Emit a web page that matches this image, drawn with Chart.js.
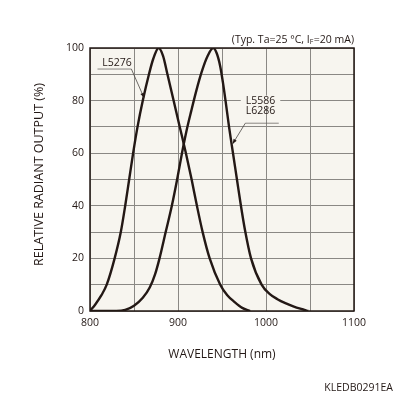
<!DOCTYPE html>
<html>
<head>
<meta charset="utf-8">
<script src="https://cdn.jsdelivr.net/npm/chart.js@4/dist/chart.umd.min.js"></script>
<style>
html,body{margin:0;padding:0;background:#fff;}
#wrap{width:396px;height:396px;}
</style>
</head>
<body>
<div id="wrap"><canvas id="c" width="396" height="396"></canvas></div>
<script>
// ---- data ----
const wavelengthL5276 = [800, 806, 813, 819, 828, 835, 840, 844.5, 849, 854, 860, 867, 872, 878, 883, 888, 895, 902, 909, 915.5, 921.5, 928, 936, 948, 956, 964, 973, 982];
const outputL5276     = [0, 2.5, 6, 10, 20, 30, 40, 50, 60, 70, 80, 90, 96, 100, 97, 90, 80, 70, 60, 50, 40, 30, 20, 10, 6, 3.5, 1.2, 0];

const wavelengthL5586 = [800, 830, 840, 850, 860, 868, 874, 879, 886, 893, 899, 904.5, 910, 915, 921, 927, 933, 940, 944, 948, 951, 954, 958, 962.5, 967, 971.5, 976, 983, 995, 1004, 1013, 1022, 1031, 1040, 1048];
const outputL5586     = [0, 0, 0.4, 2, 5, 9, 14, 20, 30, 40, 50, 60, 69, 76, 84, 91, 96.5, 100, 98, 93, 87, 80, 70, 60, 50, 40, 31, 20, 10, 6.5, 4.5, 3, 1.8, 0.8, 0];

const xTickLabels = [800, 900, 1000, 1100];
const yTickLabels = [0, 20, 40, 60, 80, 100];

const seriesNames = ['L5276', 'L5586 / L6286'];
const labelNames  = ['L5276', 'L5586', 'L6286'];

const xTitle = 'WAVELENGTH (nm)';
const yTitle = 'RELATIVE RADIANT OUTPUT (%)';
const noteParts = ['(Typ. Ta=25 °C, I', 'F', '=20 mA)'];
const docCode = 'KLEDB0291EA';

// ---- styles ----
const INK = '#231815';
const GRID = '#8a8884';
const PLOT_BG = '#f7f5ef';
const FONT = '"Open Sans", "Noto Sans", sans-serif';

function pts(xs, ys){ return xs.map((x,i)=>({x:x, y:ys[i]})); }

const annotations = {
  id: 'annotations',
  beforeDraw(chart){
    const a = chart.chartArea, ctx = chart.ctx;
    ctx.save();
    ctx.fillStyle = PLOT_BG;
    ctx.fillRect(a.left, a.top, a.right - a.left, a.bottom - a.top);
    ctx.restore();
  },
  afterDatasetsDraw(chart){
    const ctx = chart.ctx, a = chart.chartArea;
    const xs = chart.scales.x, ys = chart.scales.y;
    const X = v => xs.getPixelForValue(v), Y = v => ys.getPixelForValue(v);
    ctx.save();
    ctx.strokeStyle = INK; ctx.lineWidth = 1.5;
    ctx.strokeRect(a.left, a.top, a.right - a.left, a.bottom - a.top);

    ctx.font = '10.5px ' + FONT;
    ctx.textBaseline = 'middle';
    ctx.textAlign = 'left';
    ctx.fillStyle = INK;

    function arrow(x0,y0,x1,y1){
      ctx.strokeStyle = '#4a4642'; ctx.lineWidth = 0.8;
      ctx.beginPath(); ctx.moveTo(x0,y0); ctx.lineTo(x1,y1); ctx.stroke();
      const ang = Math.atan2(y1-y0, x1-x0), L = 5, W = 1.8;
      ctx.beginPath();
      ctx.moveTo(x1,y1);
      ctx.lineTo(x1 - L*Math.cos(ang) + W*Math.sin(ang), y1 - L*Math.sin(ang) - W*Math.cos(ang));
      ctx.lineTo(x1 - L*Math.cos(ang) - W*Math.sin(ang), y1 - L*Math.sin(ang) + W*Math.cos(ang));
      ctx.closePath(); ctx.fillStyle = INK; ctx.fill();
    }

    // L5276
    ctx.fillStyle = INK;
    ctx.fillText(labelNames[0], X(814), Y(94.3));
    ctx.strokeStyle = '#6d6a66'; ctx.lineWidth = 0.8;
    ctx.beginPath(); ctx.moveTo(X(808.5), Y(92)); ctx.lineTo(X(847), Y(92)); ctx.stroke();
    arrow(X(847), Y(92), X(861.5), Y(81));

    // L5586 with background over the grid line
    const w1 = ctx.measureText(labelNames[1]).width;
    ctx.fillStyle = PLOT_BG;
    ctx.fillRect(X(977) - 5, Y(80) - 5, w1 + 10, 10);
    ctx.fillStyle = INK;
    ctx.fillText(labelNames[1], X(977), Y(80));
    ctx.fillText(labelNames[2], X(977), Y(76));
    ctx.strokeStyle = '#6d6a66'; ctx.lineWidth = 0.8;
    ctx.beginPath(); ctx.moveTo(X(976.5), Y(71.4)); ctx.lineTo(X(1014.5), Y(71.4)); ctx.stroke();
    arrow(X(976.5), Y(71.4), X(962), Y(63.5));
    ctx.restore();
  },
  afterDraw(chart){
    const ctx = chart.ctx, a = chart.chartArea;
    ctx.save();
    ctx.fillStyle = INK;
    ctx.textBaseline = 'middle';
    ctx.font = '12px ' + FONT;
    ctx.textAlign = 'center';
    ctx.fillText(xTitle, (a.left + a.right)/2, a.bottom + 44);
    ctx.save();
    ctx.translate(a.left - 51, (a.top + a.bottom)/2 - 5);
    ctx.rotate(-Math.PI/2);
    ctx.font = '12.5px ' + FONT;
    ctx.fillText(yTitle, 0, 0);
    ctx.restore();
    // note top-right
    const big = '10.5px ' + FONT, small = '7px ' + FONT;
    ctx.textAlign = 'left';
    ctx.font = big;
    const w0 = ctx.measureText(noteParts[0]).width;
    const w2 = ctx.measureText(noteParts[2]).width;
    ctx.font = small; const wF = ctx.measureText(noteParts[1]).width;
    let x = a.right - (w0 + wF + w2 + 0.5);
    const y = a.top - 8;
    ctx.font = big; ctx.fillText(noteParts[0], x, y); x += w0;
    ctx.font = small; ctx.fillText(noteParts[1], x, y + 1.5); x += wF + 0.5;
    ctx.font = big; ctx.fillText(noteParts[2], x, y);
    ctx.font = '10.5px ' + FONT;
    ctx.textAlign = 'right';
    ctx.fillText(docCode, 393, 388);
    ctx.restore();
  }
};

const chart = new Chart(document.getElementById('c'), {
  type: 'line',
  data: {
    datasets: [
      { label: seriesNames[0], data: pts(wavelengthL5276, outputL5276) },
      { label: seriesNames[1], data: pts(wavelengthL5586, outputL5586) }
    ]
  },
  options: {
    responsive: false,
    animation: false,
    devicePixelRatio: 1,
    layout: { padding: { top: 48, right: 42, left: 0, bottom: 0 } },
    elements: {
      line: { borderColor: INK, borderWidth: 2.4, cubicInterpolationMode: 'monotone', fill: false },
      point: { radius: 0 }
    },
    plugins: { legend: { display: false }, tooltip: { enabled: false } },
    scales: {
      x: {
        type: 'linear', min: 800, max: 1100,
        afterFit(s){ s.height = 85; },
        grid: { color: GRID, lineWidth: 1, drawTicks: false },
        border: { display: false },
        ticks: {
          stepSize: 50, padding: 6, color: INK,
          font: { family: FONT, size: 10.5 },
          maxRotation: 0, autoSkip: false,
          callback: v => xTickLabels.includes(v) ? String(v) : ''
        }
      },
      y: {
        type: 'linear', min: 0, max: 100,
        afterFit(s){ s.width = 90; },
        grid: { color: GRID, lineWidth: 1, drawTicks: false },
        border: { display: false },
        ticks: {
          stepSize: 10, padding: 6, color: INK,
          font: { family: FONT, size: 10.5 },
          autoSkip: false,
          callback: v => yTickLabels.includes(v) ? String(v) : ''
        }
      }
    }
  },
  plugins: [annotations]
});
</script>
</body>
</html>
